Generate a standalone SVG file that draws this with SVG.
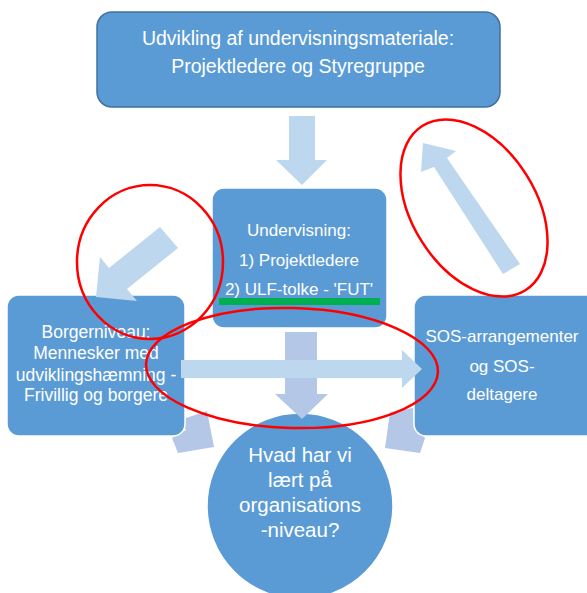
<svg xmlns="http://www.w3.org/2000/svg" width="587" height="593" viewBox="0 0 587 593">
<style>
.box{fill:#5B9BD5;stroke:#FFFFFF;stroke-width:1.5}
.top{fill:#5B9BD5;stroke:#41719C;stroke-width:1.5}
.t{font-family:"Liberation Sans",Arial,sans-serif;fill:#FFFFFF;text-anchor:middle}
.a1{fill:#BDD7EE}
.a2{fill:#B4C7E7}
.red{fill:none;stroke:#FF0000;stroke-width:2.5}
</style>
<rect width="587" height="593" fill="#FFFFFF"/>
<g id="connectors-back">
<polygon class="a2" points="180,420 207,411 214,447 178,453 172,438 186,430"/>
<polygon class="a2" points="390,412 413,408 414,425 425,438 420,453 385,448"/>
</g>
<g id="node-top">
<rect class="top" x="97" y="12" width="403" height="95" rx="15"/>
<text class="t" font-size="19.5"><tspan x="298" y="45">Udvikling af undervisningsmateriale:</tspan><tspan x="298" y="73">Projektledere og Styregruppe</tspan></text>
</g>
<g id="node-undervisning">
<rect class="box" x="212" y="188" width="175" height="140" rx="12"/>
<text class="t" font-size="17"><tspan x="299" y="236">Undervisning:</tspan><tspan x="299" y="266">1) Projektledere</tspan><tspan x="299" y="295">2) ULF-tolke - 'FUT'</tspan></text>
<rect x="219" y="298" width="161" height="7" fill="#00B050"/>
</g>
<g id="node-borger">
<rect class="box" x="7" y="295" width="178" height="141" rx="12"/>
<text class="t" font-size="17.5"><tspan x="96" y="338">Borgerniveau:</tspan><tspan x="96" y="359">Mennesker med</tspan><tspan x="96" y="381">udviklingshæmning -</tspan><tspan x="96" y="401">Frivillig og borgere</tspan></text>
</g>
<g id="node-sos">
<rect class="box" x="414" y="295" width="185" height="141" rx="12"/>
<text class="t" font-size="17"><tspan x="502" y="342">SOS-arrangementer</tspan><tspan x="502" y="372">og SOS-</tspan><tspan x="502" y="400">deltagere</tspan></text>
</g>
<g id="node-circle">
<circle class="box" cx="300" cy="506" r="93"/>
<text class="t" font-size="20.5"><tspan x="300" y="462">Hvad har vi</tspan><tspan x="300" y="487">lært på</tspan><tspan x="300" y="512">organisations</tspan><tspan x="300" y="537">-niveau?</tspan></text>
</g>
<g id="connectors">
<polygon class="a1" points="289,116 315,116 315,160 327,160 302,185 276,160 289,160"/>
<polygon class="a2" points="285,332 317,332 317,394 328,394 302,419 275,394 285,394"/>
<polygon class="a1" points="181,360 402,360 402,350 422,369 402,388 402,378 181,378"/>
<polygon class="a1" points="160,227 178,248 127,289 137,301 96,297 100,257 109,268"/>
<polygon class="a1" points="423,143 456,151 447,158 520,264 503,274 434,167 421,172"/>
</g>
<g id="annotations">
<ellipse class="red" cx="150" cy="262" rx="73" ry="77"/>
<ellipse class="red" cx="474" cy="208" rx="97" ry="62" transform="rotate(58 474 208)"/>
<ellipse class="red" cx="292" cy="368" rx="146" ry="60" transform="rotate(1.5 292 368)"/>
</g>
</svg>
